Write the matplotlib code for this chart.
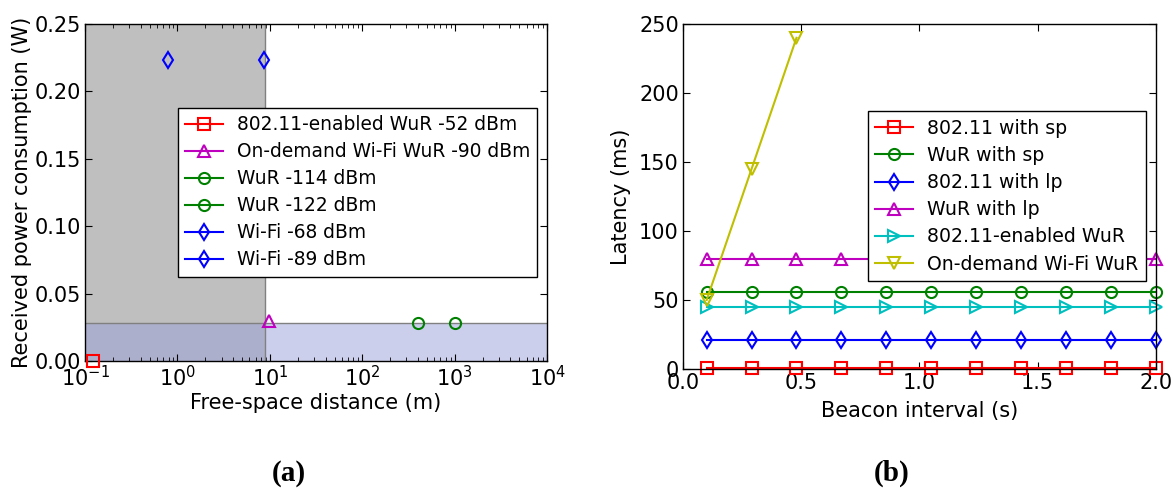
import numpy as np
import matplotlib.pyplot as plt

# (a) received power consumption vs free-space distance
dist_labels = ['802.11-enabled WuR -52 dBm', 'On-demand Wi-Fi WuR -90 dBm',
               'WuR -114 dBm', 'WuR -122 dBm', 'Wi-Fi -68 dBm', 'Wi-Fi -89 dBm']
dist_x = [0.122, 9.8, 400, 1000, 0.79, 8.65]
dist_power = [0.0, 0.030, 0.028, 0.028, 0.223, 0.223]
dist_style = [('r', 's'), ('m', '^'), ('g', 'o'), ('g', 'o'), ('b', 'd'), ('b', 'd')]
wifi_range = 8.87
wur_power = 0.028

# (b) latency vs beacon interval
beacon = [0.1, 0.29, 0.48, 0.67, 0.86, 1.05, 1.24, 1.43, 1.62, 1.81, 2.0]
lat_80211_sp = [0.5] * 11
lat_wur_sp = [56] * 11
lat_80211_lp = [21] * 11
lat_wur_lp = [80] * 11
lat_enabled = [45] * 11
beacon_od = [0.1, 0.29, 0.48]
lat_ondemand = [50, 145, 240]

labelsize = 15
ticksize = 15
msize = 8

fig = plt.figure(figsize=(11.73, 4.90), dpi=100)

ax1 = fig.add_axes([0.0725, 0.263, 0.394, 0.688])
ax1.axvspan(0.1, wifi_range, color='gray', alpha=0.5, lw=0)
ax1.axhspan(0, wur_power, color='#9ba1d9', alpha=0.5, lw=0)
ax1.axvline(wifi_range, color='gray', lw=1)
ax1.axhline(wur_power, color='gray', lw=1)
for lab, x, y, (c, m) in zip(dist_labels, dist_x, dist_power, dist_style):
    ax1.plot([x], [y], color=c, marker=m, markersize=msize, markerfacecolor='none',
             markeredgecolor=c, markeredgewidth=1.5, label=lab, clip_on=False, zorder=5)
ax1.set_xscale('log')
ax1.set_xlim(0.1, 1e4)
ax1.set_ylim(0, 0.25)
ax1.set_xlabel('Free-space distance (m)', fontsize=labelsize, labelpad=2)
ax1.set_ylabel('Received power consumption (W)', fontsize=labelsize, labelpad=2)
leg1 = ax1.legend(loc='upper left', bbox_to_anchor=(0.181, 0.779), fontsize=13.4,
                  fancybox=False, framealpha=1, edgecolor='k', handlelength=2.0,
                  handletextpad=0.75, borderpad=0.4, labelspacing=0.43, numpoints=1)
leg1.get_frame().set_linewidth(1)

ax2 = fig.add_axes([0.5823, 0.247, 0.403, 0.704])
series = [(lat_80211_sp, 'r', 's', '802.11 with sp'),
          (lat_wur_sp, 'g', 'o', 'WuR with sp'),
          (lat_80211_lp, 'b', 'd', '802.11 with lp'),
          (lat_wur_lp, 'm', '^', 'WuR with lp'),
          (lat_enabled, 'c', '>', '802.11-enabled WuR')]
for vals, c, m, lab in series:
    ax2.plot(beacon, vals, color=c, marker=m, markersize=msize, markerfacecolor='none',
             markeredgecolor=c, markeredgewidth=1.5, label=lab, clip_on=False)
ax2.plot(beacon_od, lat_ondemand, color='y', marker='v', markersize=msize,
         markerfacecolor='none', markeredgecolor='y', markeredgewidth=1.5,
         label='On-demand Wi-Fi WuR', clip_on=False)
ax2.set_xlim(0, 2.0)
ax2.set_ylim(0, 250)
ax2.set_xlabel('Beacon interval (s)', fontsize=labelsize, labelpad=6)
ax2.set_ylabel('Latency (ms)', fontsize=labelsize, labelpad=6)
leg2 = ax2.legend(loc='upper left', bbox_to_anchor=(0.371, 0.774), fontsize=13.6,
                  fancybox=False, framealpha=1, edgecolor='k', handlelength=2.0,
                  handletextpad=0.75, borderpad=0.4, labelspacing=0.43, numpoints=1)
leg2.get_frame().set_linewidth(1)

for ax in (ax1, ax2):
    ax.tick_params(axis='both', which='both', direction='in', top=True, right=True,
                   labelsize=ticksize, pad=3)
    ax.tick_params(which='major', length=5)
    ax.tick_params(which='minor', length=3)
    for s in ax.spines.values():
        s.set_linewidth(1)

ax1.set_yticks([0.0, 0.05, 0.10, 0.15, 0.20, 0.25])
ax1.set_yticklabels(['0.00', '0.05', '0.10', '0.15', '0.20', '0.25'])
ax2.set_xticks([0.0, 0.5, 1.0, 1.5, 2.0])
ax2.set_xticklabels(['0.0', '0.5', '1.0', '1.5', '2.0'])

fig.text(0.2465, 0.033, '(a)', ha='center', va='center', fontsize=21,
         fontweight='bold', family='Liberation Serif')
fig.text(0.7605, 0.033, '(b)', ha='center', va='center', fontsize=21,
         fontweight='bold', family='Liberation Serif')

plt.savefig('out.png', dpi=100)
